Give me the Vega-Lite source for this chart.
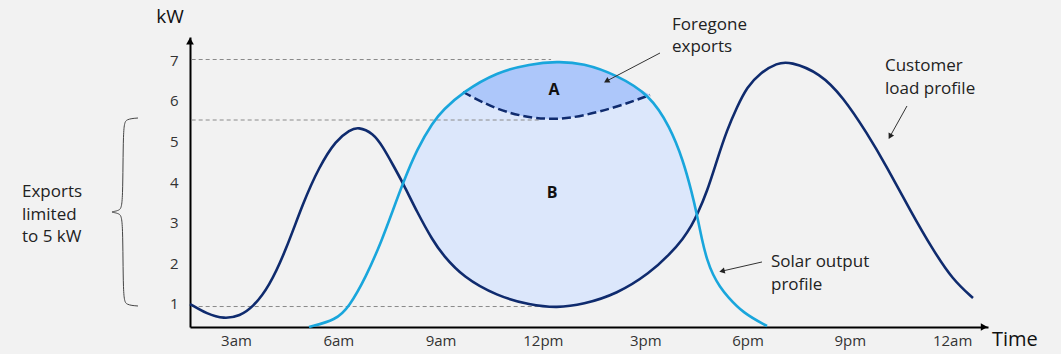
{
  "$schema": "https://vega.github.io/schema/vega-lite/v6.json",
  "width": 798,
  "height": 290,
  "autosize": {"type": "none"},
  "padding": {"left": 190, "top": 37, "right": 73, "bottom": 27},
  "background": "#f2f2f2",
  "config": {
    "view": {"stroke": null},
    "font": "Open Sans",
    "axisX": {"domainColor": "#000000", "domainWidth": 2, "ticks": false, "grid": false, "labelPadding": 6, "labelFont": "Open Sans", "labelFontSize": 15, "labelColor": "#333333"},
    "axisY": {"domainColor": "#000000", "domainWidth": 2, "ticks": false, "grid": false, "labelPadding": 12, "labelFont": "Open Sans", "labelFontSize": 15, "labelColor": "#333333"}
  },
  "datasets": {
    "profiles": [
      {"h": 1.651, "load": 0.995, "solar": null, "cap": null},
      {"h": 2.15, "load": 0.749, "solar": null, "cap": null},
      {"h": 2.648, "load": 0.626, "solar": null, "cap": null},
      {"h": 3.117, "load": 0.7, "solar": null, "cap": null},
      {"h": 3.499, "load": 0.921, "solar": null, "cap": null},
      {"h": 3.968, "load": 1.414, "solar": null, "cap": null},
      {"h": 4.466, "load": 2.325, "solar": null, "cap": null},
      {"h": 4.965, "load": 3.483, "solar": null, "cap": null},
      {"h": 5.141, "load": null, "solar": 0.429, "cap": null},
      {"h": 5.434, "load": 4.369, "solar": null, "cap": null},
      {"h": 5.933, "load": 5.034, "solar": 0.601, "cap": null},
      {"h": 6.314, "load": null, "solar": 0.921, "cap": null},
      {"h": 6.343, "load": 5.281, "solar": null, "cap": null},
      {"h": 6.578, "load": 5.36, "solar": null, "cap": null},
      {"h": 6.812, "load": null, "solar": 1.66, "cap": null},
      {"h": 7.018, "load": 5.207, "solar": null, "cap": null},
      {"h": 7.282, "load": null, "solar": 2.571, "cap": null},
      {"h": 7.311, "load": 4.862, "solar": null, "cap": null},
      {"h": 7.604, "load": 4.419, "solar": 3.31, "cap": null},
      {"h": 7.897, "load": 3.975, "solar": 3.975, "cap": null},
      {"h": 8.308, "load": 3.261, "solar": 4.813, "cap": null},
      {"h": 8.777, "load": 2.547, "solar": 5.478, "cap": null},
      {"h": 9.07, "load": 2.202, "solar": 5.773, "cap": null},
      {"h": 9.657, "load": 1.66, "solar": 6.217, "cap": 6.217},
      {"h": 10.654, "load": 1.192, "solar": 6.709, "cap": 5.773},
      {"h": 11.622, "load": 0.97, "solar": 6.906, "cap": 5.576},
      {"h": 12.413, "load": 0.9, "solar": 6.97, "cap": 5.539},
      {"h": 13.176, "load": 0.983, "solar": 6.931, "cap": 5.626},
      {"h": 14.173, "load": 1.241, "solar": 6.635, "cap": 5.847},
      {"h": 15.141, "load": 1.759, "solar": 6.143, "cap": 6.143},
      {"h": 15.727, "load": 2.227, "solar": 5.355, "cap": null},
      {"h": 16.109, "load": 2.596, "solar": 4.542, "cap": null},
      {"h": 16.372, "load": 2.941, "solar": 3.729, "cap": null},
      {"h": 16.519, "load": 3.187, "solar": 3.187, "cap": null},
      {"h": 16.666, "load": null, "solar": 2.571, "cap": null},
      {"h": 16.812, "load": 3.754, "solar": 2.079, "cap": null},
      {"h": 16.988, "load": null, "solar": 1.709, "cap": null},
      {"h": 17.106, "load": 4.542, "solar": null, "cap": null},
      {"h": 17.194, "load": null, "solar": 1.414, "cap": null},
      {"h": 17.399, "load": 5.281, "solar": 1.192, "cap": null},
      {"h": 17.692, "load": 5.847, "solar": null, "cap": null},
      {"h": 17.868, "load": null, "solar": 0.773, "cap": null},
      {"h": 17.985, "load": 6.34, "solar": null, "cap": null},
      {"h": 18.367, "load": 6.685, "solar": null, "cap": null},
      {"h": 18.572, "load": null, "solar": 0.453, "cap": null},
      {"h": 18.865, "load": 6.931, "solar": null, "cap": null},
      {"h": 19.246, "load": 6.97, "solar": null, "cap": null},
      {"h": 20.126, "load": 6.685, "solar": null, "cap": null},
      {"h": 20.8, "load": 6.094, "solar": null, "cap": null},
      {"h": 21.504, "load": 5.207, "solar": null, "cap": null},
      {"h": 22.091, "load": 4.369, "solar": null, "cap": null},
      {"h": 22.765, "load": 3.31, "solar": null, "cap": null},
      {"h": 23.44, "load": 2.325, "solar": null, "cap": null},
      {"h": 24.026, "load": 1.586, "solar": null, "cap": null},
      {"h": 24.613, "load": 1.143, "solar": null, "cap": null}
    ],
    "guides": [
      {"h": 1.7, "h2": 12.24, "kw": 7.017},
      {"h": 1.7, "h2": 11.9, "kw": 5.527},
      {"h": 1.7, "h2": 12.0, "kw": 0.933}
    ],
    "brace": [
      {"i": 0, "h": 0.126, "kw": 5.576},
      {"i": 1, "h": -0.226, "kw": 5.552},
      {"i": 2, "h": -0.314, "kw": 5.404},
      {"i": 3, "h": -0.314, "kw": 3.433},
      {"i": 4, "h": -0.402, "kw": 3.286},
      {"i": 5, "h": -0.754, "kw": 3.261},
      {"i": 6, "h": -0.402, "kw": 3.236},
      {"i": 7, "h": -0.314, "kw": 3.089},
      {"i": 8, "h": -0.314, "kw": 1.118},
      {"i": 9, "h": -0.226, "kw": 0.97},
      {"i": 10, "h": 0.126, "kw": 0.946}
    ],
    "arrows": [
      {"h": 15.434, "kw": 7.177, "h2": 13.865, "kw2": 6.485},
      {"h": 22.677, "kw": 5.872, "h2": 22.179, "kw2": 5.121},
      {"h": 18.425, "kw": 2.03, "h2": 17.252, "kw2": 1.805}
    ],
    "notes": [
      {"text": "Foregone", "h": 15.786, "kw": 7.867},
      {"text": "exports", "h": 15.786, "kw": 7.325},
      {"text": "Customer", "h": 22.032, "kw": 6.857},
      {"text": "load profile", "h": 22.032, "kw": 6.291},
      {"text": "Solar output", "h": 18.689, "kw": 2.03},
      {"text": "profile", "h": 18.689, "kw": 1.463},
      {"text": "Exports", "h": -3.276, "kw": 3.754},
      {"text": "limited", "h": -3.276, "kw": 3.187},
      {"text": "to 5 kW", "h": -3.276, "kw": 2.645}
    ],
    "regions": [
      {"text": "A", "h": 12.326, "kw": 6.266},
      {"text": "B", "h": 12.267, "kw": 3.729}
    ]
  },
  "encoding": {
    "x": {"field": "h", "type": "quantitative", "title": null,
      "scale": {"domain": [1.651, 25.053], "nice": false, "zero": false},
      "axis": {"values": [3, 6, 9, 12, 15, 18, 21, 24],
        "labelExpr": "datum.value == 24 ? '12am' : datum.value == 12 ? '12pm' : datum.value < 12 ? datum.value + 'am' : (datum.value - 12) + 'pm'"}}
  },
  "layer": [
    {
      "data": {"name": "profiles"},
      "transform": [{"filter": "datum.h >= 7.89 && datum.h <= 16.52"}],
      "mark": {"type": "area", "interpolate": "basis", "color": "#dce7fb", "opacity": 1},
      "encoding": {
        "y": {"field": "solar", "type": "quantitative", "title": null, "scale": {"domain": [0.4286, 7.5714], "nice": false, "zero": false}, "axis": {"values": [1, 2, 3, 4, 5, 6, 7]}},
        "y2": {"field": "load"}
      }
    },
    {
      "data": {"name": "profiles"},
      "transform": [{"filter": "datum.cap != null"}],
      "mark": {"type": "area", "interpolate": "basis", "color": "#adc7fa", "opacity": 1},
      "encoding": {
        "y": {"field": "solar", "type": "quantitative", "title": null},
        "y2": {"field": "cap"}
      }
    },
    {
      "data": {"name": "guides"},
      "mark": {"type": "rule", "color": "#8a8a8a", "strokeWidth": 1, "strokeDash": [4, 3]},
      "encoding": {
        "x2": {"field": "h2"},
        "y": {"field": "kw", "type": "quantitative", "title": null}
      }
    },
    {
      "data": {"name": "profiles"},
      "transform": [{"filter": "datum.cap != null"}],
      "mark": {"type": "line", "interpolate": "basis", "color": "#0f2b6e", "strokeWidth": 2.5, "strokeDash": [9, 4]},
      "encoding": {
        "y": {"field": "cap", "type": "quantitative", "title": null}
      }
    },
    {
      "data": {"name": "profiles"},
      "transform": [{"filter": "datum.load != null"}],
      "mark": {"type": "line", "interpolate": "basis", "color": "#0f2b6e", "strokeWidth": 2.6},
      "encoding": {
        "y": {"field": "load", "type": "quantitative", "title": null}
      }
    },
    {
      "data": {"name": "profiles"},
      "transform": [{"filter": "datum.solar != null"}],
      "mark": {"type": "line", "interpolate": "basis", "color": "#19a6dc", "strokeWidth": 2.6},
      "encoding": {
        "y": {"field": "solar", "type": "quantitative", "title": null}
      }
    },
    {
      "data": {"name": "brace"},
      "mark": {"type": "line", "interpolate": "basis", "color": "#444444", "strokeWidth": 1},
      "encoding": {
        "y": {"field": "kw", "type": "quantitative", "title": null},
        "order": {"field": "i"}
      }
    },
    {
      "data": {"name": "arrows"},
      "mark": {"type": "rule", "color": "#333333", "strokeWidth": 1},
      "encoding": {
        "x2": {"field": "h2"},
        "y": {"field": "kw", "type": "quantitative", "title": null},
        "y2": {"field": "kw2"}
      }
    },
    {
      "data": {"values": [{"h": 13.865, "kw": 6.485}]},
      "mark": {"type": "point", "shape": "triangle-up", "filled": true, "color": "#222222", "opacity": 1, "size": 40, "angle": 242},
      "encoding": {"y": {"field": "kw", "type": "quantitative", "title": null}}
    },
    {
      "data": {"values": [{"h": 22.179, "kw": 5.121}]},
      "mark": {"type": "point", "shape": "triangle-up", "filled": true, "color": "#222222", "opacity": 1, "size": 40, "angle": 209},
      "encoding": {"y": {"field": "kw", "type": "quantitative", "title": null}}
    },
    {
      "data": {"values": [{"h": 17.252, "kw": 1.805}]},
      "mark": {"type": "point", "shape": "triangle-up", "filled": true, "color": "#222222", "opacity": 1, "size": 40, "angle": 257},
      "encoding": {"y": {"field": "kw", "type": "quantitative", "title": null}}
    },
    {
      "data": {"values": [{"h": 1.651, "kw": 7.47}]},
      "mark": {"type": "point", "shape": "triangle-up", "filled": true, "color": "#000000", "opacity": 1, "size": 60},
      "encoding": {"y": {"field": "kw", "type": "quantitative", "title": null}}
    },
    {
      "data": {"values": [{"h": 24.94, "kw": 0.4286}]},
      "mark": {"type": "point", "shape": "triangle-right", "filled": true, "color": "#000000", "opacity": 1, "size": 60},
      "encoding": {"y": {"field": "kw", "type": "quantitative", "title": null}}
    },
    {
      "data": {"name": "notes"},
      "mark": {"type": "text", "align": "left", "baseline": "middle", "font": "Open Sans", "fontSize": 17, "color": "#222222"},
      "encoding": {
        "y": {"field": "kw", "type": "quantitative", "title": null},
        "text": {"field": "text"}
      }
    },
    {
      "data": {"name": "regions"},
      "mark": {"type": "text", "align": "center", "baseline": "middle", "font": "Open Sans", "fontSize": 16, "fontWeight": "bold", "color": "#111111"},
      "encoding": {
        "y": {"field": "kw", "type": "quantitative", "title": null},
        "text": {"field": "text"}
      }
    },
    {
      "data": {"values": [{"text": "kW", "h": 1.065, "kw": 8.064}]},
      "mark": {"type": "text", "align": "center", "baseline": "middle", "font": "Open Sans", "fontSize": 19, "color": "#111111"},
      "encoding": {
        "y": {"field": "kw", "type": "quantitative", "title": null},
        "text": {"field": "text"}
      }
    },
    {
      "data": {"values": [{"text": "Time", "h": 25.17, "kw": 0.108}]},
      "mark": {"type": "text", "align": "left", "baseline": "middle", "font": "Open Sans", "fontSize": 20, "color": "#111111"},
      "encoding": {
        "y": {"field": "kw", "type": "quantitative", "title": null},
        "text": {"field": "text"}
      }
    }
  ]
}
